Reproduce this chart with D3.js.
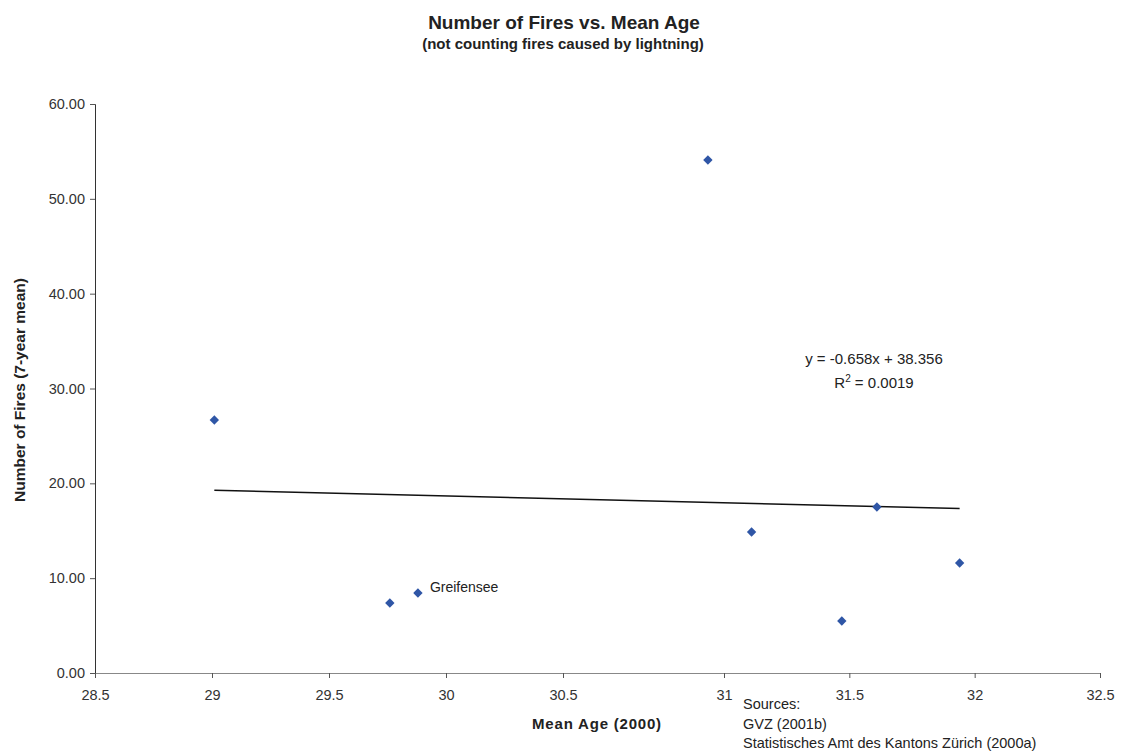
<!DOCTYPE html>
<html>
<head>
<meta charset="utf-8">
<script src="https://cdn.jsdelivr.net/npm/d3@7"></script>
<style>
  html, body { margin: 0; padding: 0; background: #ffffff; }
  svg { display: block; font-family: "Liberation Sans", Arial, sans-serif; }
</style>
</head>
<body>
<svg id="chart" width="1122" height="755"></svg>
<script>
// ---- data ----
const meanAge = [29.01, 29.76, 29.88, 30.95, 31.11, 31.47, 31.61, 31.94];
const fires   = [26.68, 7.38, 8.44, 54.10, 14.87, 5.48, 17.50, 11.60];
const pointLabels = ["", "", "Greifensee", "", "", "", "", ""];
const xTicks = [28.5, 29, 29.5, 30, 30.5, 31, 31.5, 32, 32.5];
const yTicks = [0, 10, 20, 30, 40, 50, 60];
const trendSlope = -0.658;
const trendIntercept = 38.356;
const equationText = "y = -0.658x + 38.356";
const r2Value = "0.0019";
const titleText = "Number of Fires vs. Mean Age";
const subtitleText = "(not counting fires caused by lightning)";
const xTitle = "Mean Age (2000)";
const yTitle = "Number of Fires (7-year mean)";
const sourceLines = ["Sources:", "GVZ (2001b)", "Statistisches Amt des Kantons Zürich (2000a)"];

const svg = d3.select("#chart");

// x axis in the reference scan is not evenly spaced; follow it piecewise
const x = d3.scaleLinear().domain([28.5, 30.5, 31, 32.5]).range([95, 563, 724, 1100]);
const y = d3.scaleLinear().domain([0, 60]).range([673, 104]);

// titles
svg.append("text").attr("x", 564).attr("y", 29).attr("text-anchor", "middle")
  .attr("font-weight", "bold").attr("font-size", 19).attr("fill", "#222").text(titleText);
svg.append("text").attr("x", 563).attr("y", 49).attr("text-anchor", "middle")
  .attr("font-weight", "bold").attr("font-size", 15).attr("fill", "#222").text(subtitleText);

// y axis
const yAxis = d3.axisLeft(y).tickValues(yTicks).tickSize(5).tickPadding(5)
  .tickFormat(d3.format(".2f"));
const gy = svg.append("g").attr("transform", "translate(95,0)").call(yAxis);
gy.select(".domain").attr("stroke", "#333");
gy.selectAll(".tick line").attr("stroke", "#555");
gy.selectAll(".tick text").attr("font-size", 14.5).attr("fill", "#333")
  .attr("font-family", "Liberation Sans, Arial, sans-serif");

// x axis
const xAxis = d3.axisBottom(x).tickValues(xTicks).tickSize(5).tickPadding(12)
  .tickFormat(d3.format(""));
const gx = svg.append("g").attr("transform", "translate(0,673)").call(xAxis);
gx.select(".domain").attr("stroke", "#888");
gx.selectAll(".tick line").attr("stroke", "#555");
gx.selectAll(".tick text").attr("font-size", 14.5).attr("fill", "#333")
  .attr("font-family", "Liberation Sans, Arial, sans-serif");

// axis titles
svg.append("text").attr("x", 597).attr("y", 729).attr("text-anchor", "middle")
  .attr("font-weight", "bold").attr("font-size", 15).attr("letter-spacing", 0.8)
  .attr("fill", "#222").text(xTitle);
svg.append("text").attr("transform", "translate(25,390) rotate(-90)")
  .attr("text-anchor", "middle").attr("font-weight", "bold").attr("font-size", 15.5)
  .attr("fill", "#222").text(yTitle);

// trend line
const xMin = d3.min(meanAge), xMax = d3.max(meanAge);
svg.append("line")
  .attr("x1", x(xMin)).attr("y1", y(trendSlope * xMin + trendIntercept))
  .attr("x2", x(xMax)).attr("y2", y(trendSlope * xMax + trendIntercept))
  .attr("stroke", "#111").attr("stroke-width", 1.5);

// points
const pts = meanAge.map((v, i) => ({ x: v, y: fires[i], label: pointLabels[i] }));
svg.append("g").selectAll("path").data(pts).enter().append("path")
  .attr("d", d3.symbol().type(d3.symbolDiamond2).size(56))
  .attr("transform", d => `translate(${x(d.x)},${y(d.y)})`)
  .attr("fill", "#2f56a6");

svg.append("g").selectAll("text").data(pts.filter(d => d.label)).enter().append("text")
  .attr("x", d => x(d.x) + 12).attr("y", d => y(d.y) - 1)
  .attr("font-size", 14).attr("fill", "#222").text(d => d.label);

// equation
svg.append("text").attr("x", 874).attr("y", 364).attr("text-anchor", "middle")
  .attr("font-size", 15).attr("fill", "#222").text(equationText);
const r2 = svg.append("text").attr("x", 874).attr("y", 388).attr("text-anchor", "middle")
  .attr("font-size", 15).attr("fill", "#222");
r2.append("tspan").text("R");
r2.append("tspan").attr("dy", -6).attr("font-size", 10).text("2");
r2.append("tspan").attr("dy", 6).text(" = " + r2Value);

// sources
svg.append("g").selectAll("text").data(sourceLines).enter().append("text")
  .attr("x", 743).attr("y", (d, i) => 709 + i * 19.5)
  .attr("font-size", 14.5).attr("fill", "#222").text(d => d);
</script>
</body>
</html>
